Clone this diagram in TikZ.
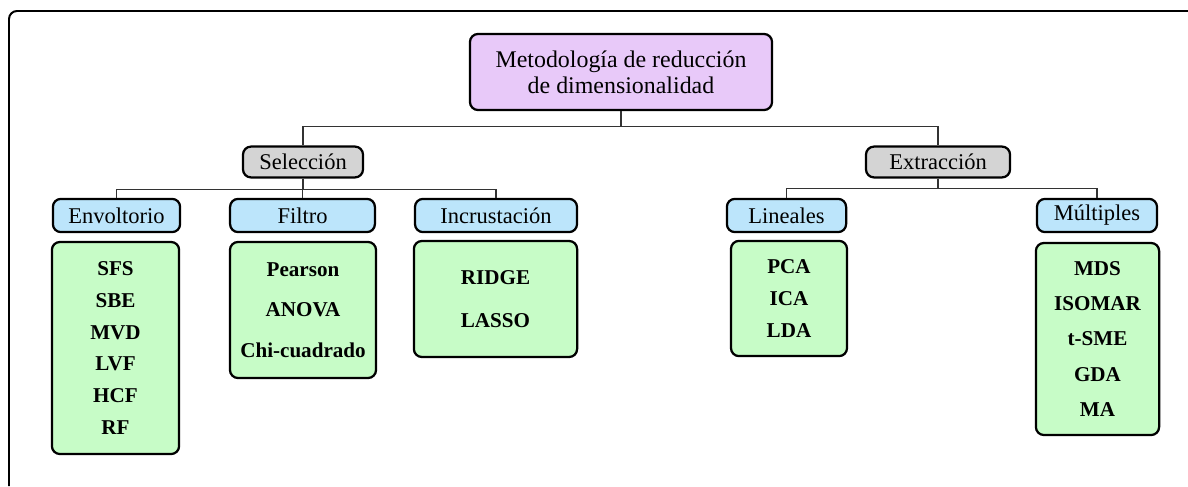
\documentclass[tikz,border=0pt]{standalone}
\usepackage{fontspec}
\setmainfont{Liberation Serif}
\usepackage{xcolor}
\usepackage{tikz}
\usetikzlibrary{positioning}
\definecolor{lila}{HTML}{E8C9F9}
\definecolor{gris}{HTML}{D4D4D4}
\definecolor{celeste}{HTML}{BCE5FB}
\definecolor{verde}{HTML}{C7FCC7}
\tikzset{
    Box/.style = {rectangle, rounded corners=0.2cm, draw=black, line width=1.6pt, align=center, inner sep=0pt},
    nodetitle/.style = {Box, fill=lila, font=\fontsize{17}{18.5}\selectfont},
    nodegroup/.style = {Box, fill=gris, font=\fontsize{16}{18}\selectfont},
    nodetype/.style = {Box, fill=celeste, font=\fontsize{16}{18}\selectfont},
    nodelist/.style = {Box, fill=verde},
}

\begin{document}
\begin{tikzpicture}[
	x=0.025cm,
	y=-0.025cm,
	thick
]
\tikzset{
    conn/.style = {-, line width=0.8pt, black!80},
    frame/.style = {line width=1.4pt, rounded corners=0.2cm}
}
\useasboundingbox (0,0) rectangle (1188,486);
\draw[frame] (9,486) -- (9,11) -- (1188,11);
%
\node[nodetitle, minimum width=7.55cm, minimum height=1.9cm] at (621,72) (met) {Metodología de reducción\\ de dimensionalidad};
\node[nodegroup, minimum width=3.0cm, minimum height=0.77cm] at (303,162) (sel) {Selección};
\node[nodegroup, minimum width=3.6cm, minimum height=0.77cm] at (938,162) (ext) {Extracción};
%
\node[nodetype, minimum width=3.18cm, minimum height=0.83cm] at (116.5,215.5) (env) {Envoltorio};
\node[nodetype, minimum width=3.62cm, minimum height=0.83cm] at (302.5,215.5) (fil) {Filtro};
\node[nodetype, minimum width=4.05cm, minimum height=0.83cm] at (496,215.5) (inc) {Incrustación};
\node[nodetype, minimum width=2.98cm, minimum height=0.83cm] at (786.5,215.5) (lin) {Lineales};
\node[nodetype, minimum width=3.0cm, minimum height=0.83cm] at (1097,215.5) (mul) {Múltiples};
%
\node[nodelist, minimum width=3.18cm, minimum height=5.3cm, font=\fontsize{15}{22.7}\selectfont\bfseries] at (115.5,348) (envl) {SFS\\SBE\\MVD\\LVF\\HCF\\RF};
\node[nodelist, minimum width=3.65cm, minimum height=3.4cm, font=\fontsize{15}{29}\selectfont\bfseries] at (303,310) (fill) {Pearson\\ANOVA\\Chi-cuadrado};
\node[nodelist, minimum width=4.08cm, minimum height=2.9cm, font=\fontsize{15}{30.5}\selectfont\bfseries] at (495.5,299) (incl) {RIDGE\\LASSO};
\node[nodelist, minimum width=2.9cm, minimum height=2.88cm, font=\fontsize{15}{22.7}\selectfont\bfseries] at (789,298.5) (linl) {PCA\\ICA\\LDA};
\node[nodelist, minimum width=3.08cm, minimum height=4.8cm, font=\fontsize{15}{25.2}\selectfont\bfseries] at (1097.5,339) (mull) {MDS\\ISOMAR\\t-SME\\GDA\\MA};
%
\draw[conn] (met.south) -- ++(0,15) -| (sel.north);
\draw[conn] (met.south) -- ++(0,15) -| (ext.north);
%
\draw[conn] (sel.south) -- ++(0,11) -| (env.north);
\draw[conn] (sel.south) -- ++(0,11) -| (fil.north);
\draw[conn] (sel.south) -- ++(0,11) -| (inc.north);
%
\draw[conn] (ext.south) -- ++(0,10) -| (lin.north);
\draw[conn] (ext.south) -- ++(0,10) -| (mul.north);
\end{tikzpicture}
\end{document}
